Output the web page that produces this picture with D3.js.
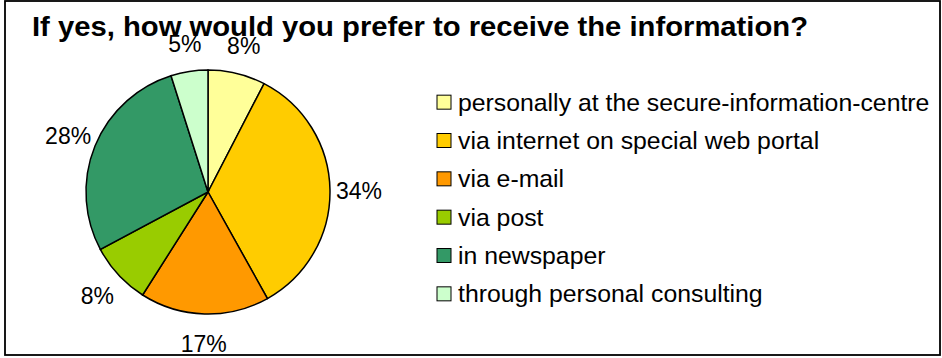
<!DOCTYPE html>
<html>
<head>
    <meta charset="utf-8">
    <style>
        body { margin: 0; background: #fff; }
        text { font-family: "Liberation Sans", Arial, sans-serif; fill: #000; }
        path.slice { stroke: #000; stroke-width: 1.5px; }
        rect.key { stroke: #000; stroke-width: 1px; }
    </style>
</head>
<body>
<div id="chart"></div>
<script src="https://cdn.jsdelivr.net/npm/d3@7"></script>
<script>

    // shares (labels show them rounded)
    var categories = [
        "personally at the secure-information-centre",
        "via internet on special web portal",
        "via e-mail",
        "via post",
        "in newspaper",
        "through personal consulting"
    ];
    var shares = [7.6, 34.3, 17.1, 8.2, 27.9, 4.9];
    var colours = ["#ffff99", "#ffcc00", "#ff9900", "#99cc00", "#339966", "#ccffcc"];
    var title = "If yes, how would you prefer to receive the information?";

    var width = 942, height = 358;
    var cx = 208, cy = 192, radius = 122;

    var svg = d3.select("#chart").append("svg")
        .attr("width", width)
        .attr("height", height);

    svg.append("rect")
        .attr("x", 5).attr("y", 1)
        .attr("width", 935).attr("height", 354)
        .attr("fill", "#fff")
        .attr("stroke", "#000")
        .attr("stroke-width", 1.8);

    var data = categories.map(function (c, i) {
        return {name: c, value: shares[i], colour: colours[i]};
    });

    var pie = d3.pie().sort(null).value(function (d) { return d.value; });
    var arcs = pie(data);

    var arc = d3.arc().innerRadius(0).outerRadius(radius);
    var labelArc = d3.arc().innerRadius(151).outerRadius(151);

    var g = svg.append("g").attr("transform", "translate(" + cx + "," + cy + ")");

    g.selectAll("path.slice")
        .data(arcs)
        .enter().append("path")
        .attr("class", "slice")
        .attr("fill", function (d) { return d.data.colour; })
        .attr("d", arc);

    var pct = d3.format(".0f");

    // title drawn before the labels so the labels sit on top of it
    svg.append("text")
        .attr("x", 32).attr("y", 36)
        .attr("font-size", 28)
        .attr("font-weight", "bold")
        .attr("textLength", 776)
        .attr("lengthAdjust", "spacingAndGlyphs")
        .text(title);

    g.selectAll("text.lbl")
        .data(arcs)
        .enter().append("text")
        .attr("class", "lbl")
        .attr("transform", function (d) { return "translate(" + labelArc.centroid(d) + ")"; })
        .attr("text-anchor", "middle")
        .attr("dy", "0.4em")
        .attr("font-size", 23)
        .text(function (d) { return pct(d.data.value) + "%"; });

    var y = d3.scaleBand()
        .domain(categories)
        .range([83, 313]);

    var legend = svg.append("g").attr("class", "legend");

    var rows = legend.selectAll("g")
        .data(data)
        .enter().append("g")
        .attr("transform", function (d) {
            return "translate(437," + (y(d.name) + y.bandwidth() / 2) + ")";
        });

    rows.append("rect")
        .attr("class", "key")
        .attr("x", 0).attr("y", -7)
        .attr("width", 14).attr("height", 14)
        .attr("fill", function (d) { return d.colour; });

    rows.append("text")
        .attr("x", 21)
        .attr("dy", "0.34em")
        .attr("font-size", 24.8)
        .text(function (d) { return d.name; });

</script>
</body>
</html>
